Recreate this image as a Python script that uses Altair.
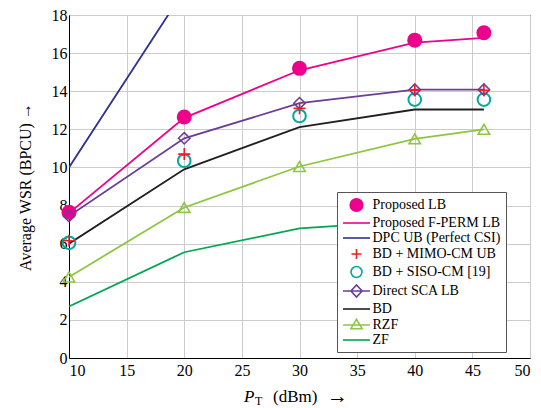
import altair as alt
import pandas as pd

# ---------------- data ----------------
x_vals = [10, 20, 30, 40, 46]
proposed_lb = [7.65, 12.65, 15.2, 16.68, 17.07]
proposed_fperm = [7.6, 12.6, 15.1, 16.55, 16.8]
dpc_ub = [10.0, 19.3, 25.0, 28.5, 30.0]
bd_mimo_ub = [6.15, 10.7, 13.1, 14.05, 14.05]
bd_siso = [6.05, 10.35, 12.7, 13.56, 13.56]
direct_sca = [7.45, 11.53, 13.37, 14.08, 14.08]
bd = [6.0, 9.9, 12.12, 13.04, 13.04]
rzf = [4.25, 7.9, 10.05, 11.5, 12.0]
zf = [2.7, 5.55, 6.8, 7.2, 7.4]

names = ["Proposed LB", "Proposed F-PERM LB", "DPC UB (Perfect CSI)",
         "BD + MIMO-CM UB", "BD + SISO-CM [19]", "Direct SCA LB",
         "BD", "RZF", "ZF"]
series_values = [proposed_lb, proposed_fperm, dpc_ub, bd_mimo_ub, bd_siso,
                 direct_sca, bd, rzf, zf]
line_series = ["Proposed F-PERM LB", "DPC UB (Perfect CSI)", "Direct SCA LB",
               "BD", "RZF", "ZF"]

x_ticks = [10, 15, 20, 25, 30, 35, 40, 45, 50]
y_ticks = [0, 2, 4, 6, 8, 10, 12, 14, 16, 18]

# ---------------- style ----------------
MAGENTA = "#EC008C"
NAVY = "#2E3192"
RED = "#ED1C24"
TEAL = "#00A99D"
PURPLE = "#6A3D9A"
BLACK = "#231F20"
LGREEN = "#8DC63F"
GREEN = "#00A651"
colors = [MAGENTA, MAGENTA, NAVY, RED, TEAL, PURPLE, BLACK, LGREEN, GREEN]
fills = [MAGENTA] + ["transparent"] * 8
LINE = "M-1.93,0H1.93"
legend_paths = [
    "M-0.9,0A0.9,0.9 0 1,0 0.9,0A0.9,0.9 0 1,0 -0.9,0Z",
    LINE,
    LINE,
    "M-0.72,0H0.72M0,-0.72V0.72",
    "M-0.78,0A0.78,0.78 0 1,0 0.78,0A0.78,0.78 0 1,0 -0.78,0Z",
    "M-1.93,0H1.93M-0.8,0L0,-0.88L0.8,0L0,0.88Z",
    LINE,
    "M-1.93,0H1.93M-0.8,0.53L0,-0.8L0.8,0.53Z",
    LINE,
]
FONT = "Liberation Serif"

rows = []
for name, vals in zip(names, series_values):
    for xv, yv in zip(x_vals, vals):
        rows.append({"series": name, "x": xv, "y": yv})
df = pd.DataFrame(rows)

W, H = 461, 343

xenc = alt.X("x:Q", scale=alt.Scale(domain=[10, 50], nice=False),
             axis=alt.Axis(values=x_ticks, title=None, labelPadding=4))
yenc = alt.Y("y:Q", scale=alt.Scale(domain=[0, 18], nice=False),
             axis=alt.Axis(values=y_ticks, title="Average WSR (BPCU)  →",
                           titlePadding=18))

base = alt.Chart(df)

lines = base.transform_filter(
    alt.FieldOneOfPredicate(field="series", oneOf=line_series)
).mark_line(strokeWidth=1.8, clip=True).encode(
    x=xenc, y=yenc,
    color=alt.Color("series:N", scale=alt.Scale(domain=names, range=colors), legend=None),
    detail="series:N",
)


def markers(name, **kw):
    return base.transform_filter(alt.datum.series == name).mark_point(
        opacity=1, **kw).encode(x=xenc, y=yenc)


m_lb = markers("Proposed LB", filled=True, shape="circle", size=225, color=MAGENTA)
m_siso = markers("BD + SISO-CM [19]", filled=False, shape="circle", size=160,
                 strokeWidth=2, color=TEAL)
m_sca = markers("Direct SCA LB", filled=False, shape="diamond", size=130,
                strokeWidth=1.6, color=PURPLE)
m_rzf = markers("RZF", filled=False, shape="triangle-up", size=130,
                strokeWidth=1.6, color=LGREEN)
m_mimo = markers("BD + MIMO-CM UB", filled=False, shape="M-1,0H1M0,-1V1",
                 size=144, strokeWidth=1.6, color=RED)

legend_layer = alt.Chart(pd.DataFrame({"series": names})).transform_filter(
    "false"
).mark_point(opacity=1, strokeWidth=1.6).encode(
    stroke=alt.Stroke("series:N", scale=alt.Scale(domain=names, range=colors),
                      legend=alt.Legend(
                          title=None, orient="none", legendX=268, legendY=177,
                          fillColor="white", strokeColor="#555555", padding=5,
                          labelFont=FONT, labelFontSize=14, labelColor="black",
                          symbolSize=196, symbolStrokeWidth=1.6,
                          symbolOffset=6.5, labelOffset=8,
                          rowPadding=0, symbolOpacity=1, labelLimit=300)),
    fill=alt.Fill("series:N", scale=alt.Scale(domain=names, range=fills)),
    shape=alt.Shape("series:N", scale=alt.Scale(domain=names, range=legend_paths)),
)

# x-axis title pieces: P (italic), subscript T, "(dBm)", arrow
xt_text = ["P", "T", "(dBm)", "→"]
t_p = alt.Chart(pd.DataFrame({"t": [xt_text[0]]})).mark_text(
    font=FONT, fontSize=17, fontStyle="italic", align="left", baseline="alphabetic",
    color="black").encode(text="t:N", x=alt.value(175), y=alt.value(387))
t_t = alt.Chart(pd.DataFrame({"t": [xt_text[1]]})).mark_text(
    font=FONT, fontSize=12, align="left", baseline="alphabetic",
    color="black").encode(text="t:N", x=alt.value(186), y=alt.value(390))
t_d = alt.Chart(pd.DataFrame({"t": [xt_text[2]]})).mark_text(
    font=FONT, fontSize=17, align="left", baseline="alphabetic",
    color="black").encode(text="t:N", x=alt.value(204), y=alt.value(387))
t_a = alt.Chart(pd.DataFrame({"t": [xt_text[3]]})).mark_text(
    font=FONT, fontSize=21, align="left", baseline="alphabetic",
    color="black").encode(text="t:N", x=alt.value(258), y=alt.value(388))

chart = alt.layer(
    lines, m_lb, m_siso, m_sca, m_rzf, m_mimo, legend_layer, t_p, t_t, t_d, t_a
).resolve_scale(
    color="independent"
).properties(
    width=W, height=H,
    background="white",
    autosize=alt.AutoSizeParams(type="none"),
    padding={"left": 61, "top": 7, "right": 3, "bottom": 49},
).configure_view(
    stroke="black", strokeWidth=1
).configure_axis(
    labelFont=FONT, labelFontSize=16, labelColor="black",
    titleFont=FONT, titleFontSize=16, titleColor="black", titleFontWeight="normal",
    domainColor="black", domainWidth=1, ticks=False,
    gridColor="#cccccc", gridWidth=1,
)

chart.save("out.html", embed_options={"renderer": "svg", "actions": False})
